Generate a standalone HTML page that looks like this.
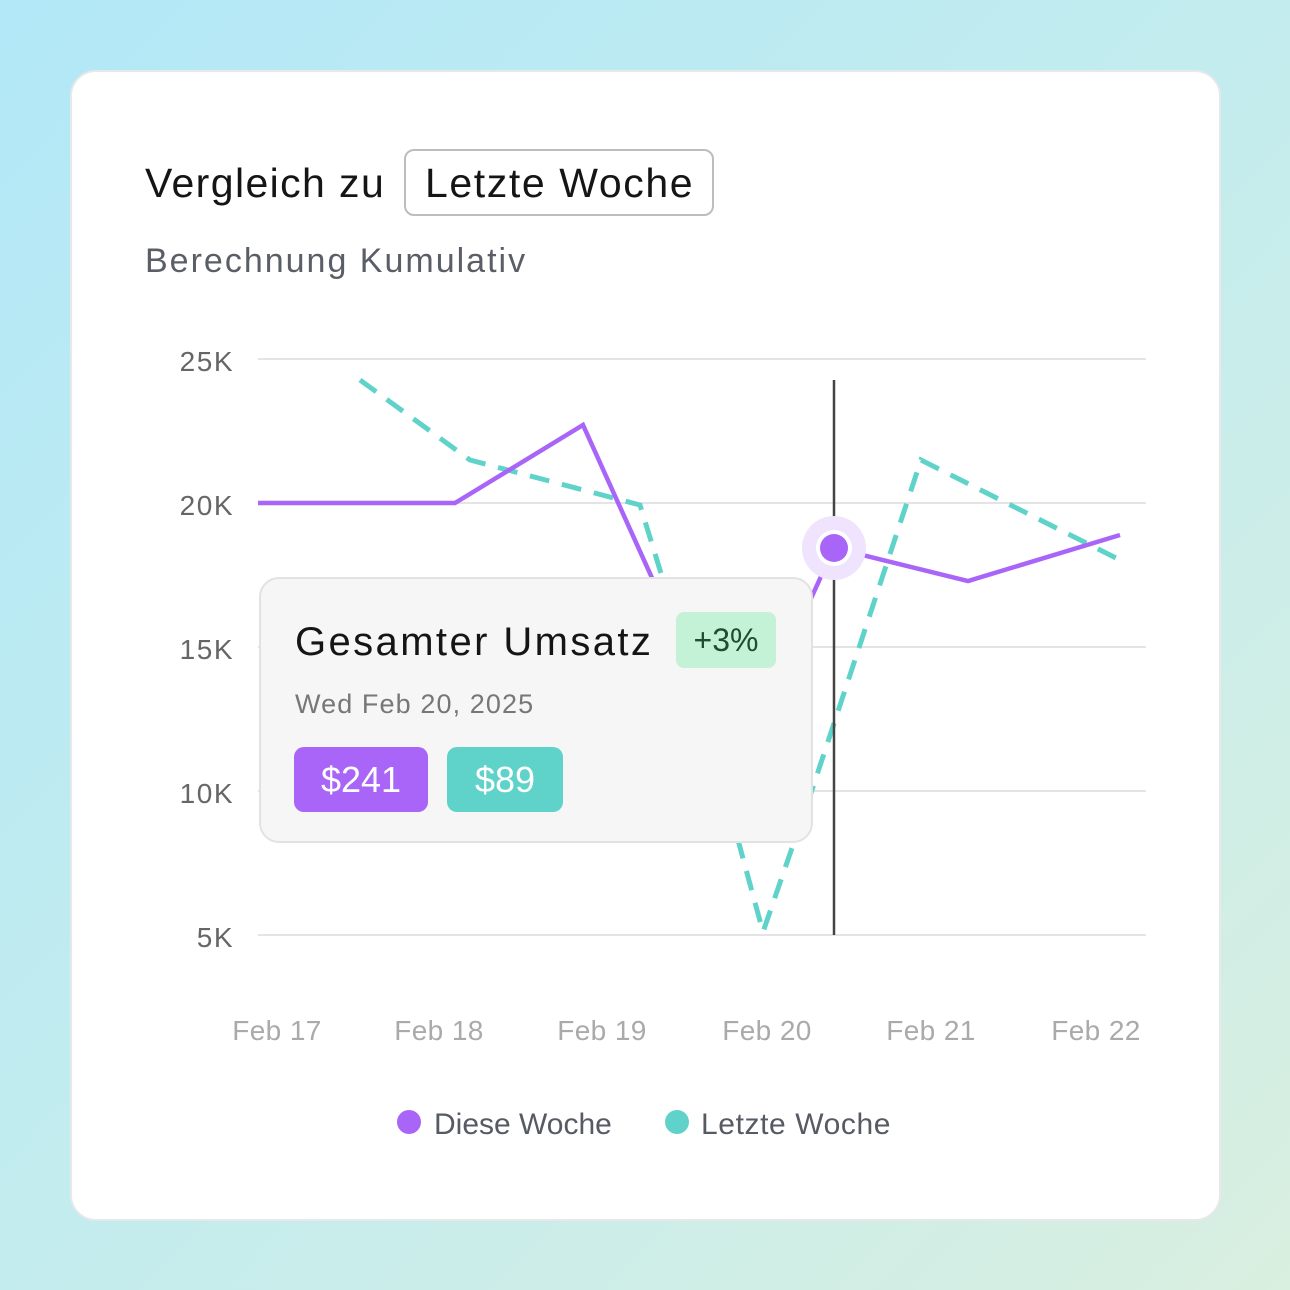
<!DOCTYPE html>
<html><head><meta charset="utf-8"><style>
html,body{margin:0;padding:0}
body{width:1290px;height:1290px;overflow:hidden;background:linear-gradient(135deg,#b2e8f7 0%,#c3ecee 50%,#d9efe0 100%);font-family:"Liberation Sans",sans-serif;position:relative}
.card{position:absolute;left:70px;top:70px;width:1147px;height:1147px;background:#fff;border:2px solid #e6e8ea;border-radius:26px}
.t{position:absolute;white-space:nowrap}
</style></head><body>
<div class="card"></div>
<div class="t" style="left:145px;top:160px;font-size:41px;color:#151515;letter-spacing:1.4px">Vergleich zu</div>
<div class="t" style="left:404px;top:149px;width:306px;height:63px;border:2px solid #bdbdbd;border-radius:10px"></div>
<div class="t" style="left:425px;top:160px;font-size:41px;color:#151515;letter-spacing:1.6px">Letzte Woche</div>
<div class="t" style="left:145px;top:242px;font-size:34px;color:#5a5e66;letter-spacing:2px">Berechnung Kumulativ</div>
<svg class="t" style="left:0;top:0" width="1290" height="1290">
<g stroke="#e4e4e4" stroke-width="2">
<line x1="258" y1="359" x2="1146" y2="359"/><line x1="258" y1="503" x2="1146" y2="503"/>
<line x1="258" y1="647" x2="1146" y2="647"/><line x1="258" y1="791" x2="1146" y2="791"/>
<line x1="258" y1="935" x2="1146" y2="935"/></g>
<g font-family="Liberation Sans,sans-serif" font-size="28" fill="#666" text-anchor="end" letter-spacing="1.5">
<text x="234" y="371">25K</text><text x="234" y="515">20K</text><text x="234" y="659">15K</text><text x="234" y="803">10K</text><text x="234" y="947">5K</text></g>
<g font-family="Liberation Sans,sans-serif" font-size="28" fill="#aaa" text-anchor="middle" letter-spacing="0.4">
<text x="277" y="1040">Feb 17</text><text x="439" y="1040">Feb 18</text><text x="602" y="1040">Feb 19</text><text x="767" y="1040">Feb 20</text><text x="931" y="1040">Feb 21</text><text x="1096" y="1040">Feb 22</text></g>
<polyline fill="none" stroke="#5fd3c9" stroke-width="5" stroke-dasharray="20,13" points="360,380 470,460 640,505 700,700 763,932 812,790 921,460 1120,560"/>
<polyline fill="none" stroke="#a865f8" stroke-width="4.5" points="258,503 455,503 583,425 680,640 808,605 834,548 968,581 1120,535"/>
<line x1="834" y1="380" x2="834" y2="935" stroke="#444" stroke-width="2.5"/>
<circle cx="834" cy="548" r="32" fill="#efe3fd"/>
<circle cx="834" cy="548" r="18" fill="#fff"/>
<circle cx="834" cy="548" r="14" fill="#a865f8"/>
<circle cx="409" cy="1122" r="12" fill="#a865f8"/>
<circle cx="677" cy="1122" r="12" fill="#5fd3c9"/>
<g font-family="Liberation Sans,sans-serif" font-size="30" fill="#555a63"><text x="434" y="1134">Diese Woche</text><text x="701" y="1134" letter-spacing="0.6">Letzte Woche</text></g>
</svg>
<div class="t" style="left:259px;top:577px;width:550px;height:262px;background:#f6f6f6;border:2px solid #e2e2e2;border-radius:20px"></div>
<div class="t" style="left:295px;top:620px;font-size:40px;color:#151515;letter-spacing:2.4px">Gesamter Umsatz</div>
<div class="t" style="left:676px;top:612px;width:100px;height:56px;background:#c3f2d6;border-radius:8px;font-size:32px;color:#1e4d33;text-align:center;line-height:56px">+3%</div>
<div class="t" style="left:295px;top:689px;font-size:27px;color:#777;letter-spacing:1.1px">Wed Feb 20, 2025</div>
<div class="t" style="left:294px;top:747px;width:134px;height:65px;background:#a865f8;border-radius:10px;font-size:36px;color:#fff;text-align:center;line-height:65px">$241</div>
<div class="t" style="left:447px;top:747px;width:116px;height:65px;background:#5fd3c9;border-radius:10px;font-size:36px;color:#fff;text-align:center;line-height:65px">$89</div>
</body></html>
